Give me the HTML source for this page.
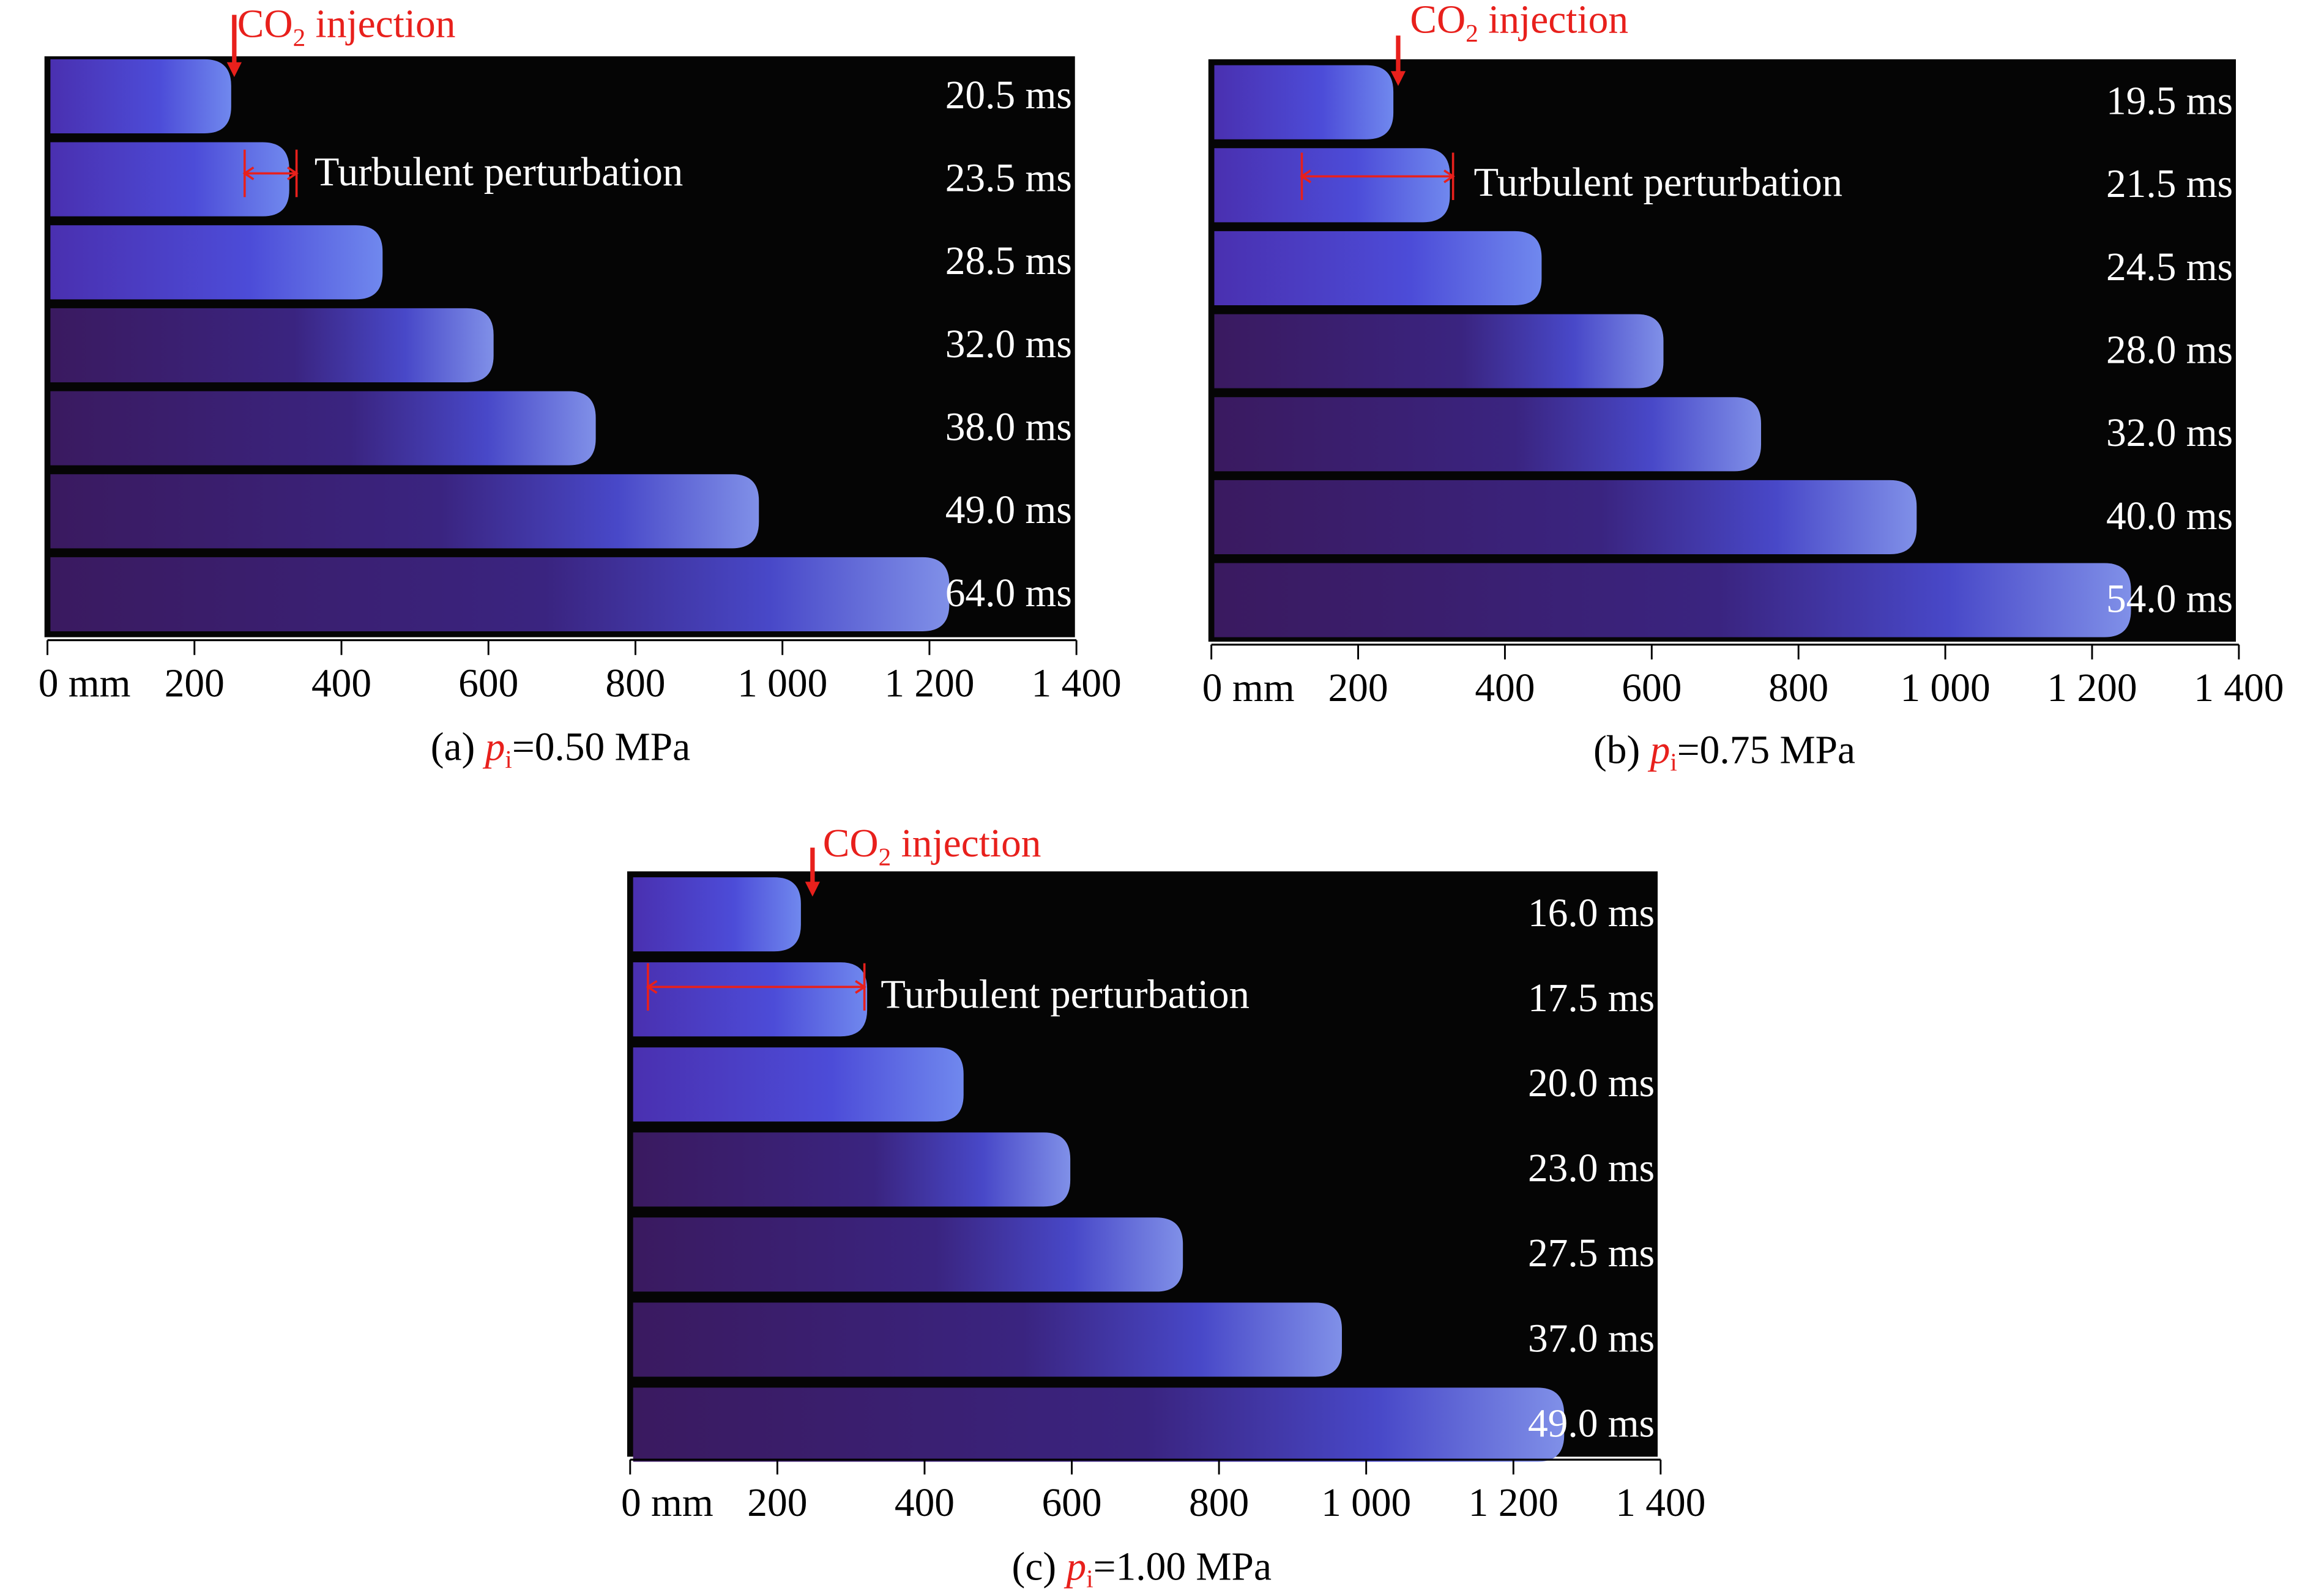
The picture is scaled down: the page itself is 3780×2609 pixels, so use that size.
<!DOCTYPE html>
<html><head><meta charset="utf-8">
<style>
html,body{margin:0;padding:0;background:#fff;}
svg{display:block;}
text{font-family:"Liberation Serif",serif;}
</style></head>
<body>
<svg id="fig" width="3780" height="2609" viewBox="0 0 1560 1077" preserveAspectRatio="none" xmlns="http://www.w3.org/2000/svg">
<defs>
<linearGradient id="gEarly" x1="0" x2="1" y1="0" y2="0">
<stop offset="0" stop-color="#4a30b0"/><stop offset="0.6" stop-color="#4c4cd8"/><stop offset="1" stop-color="#7088ee"/>
</linearGradient>
<linearGradient id="gLate" x1="0" x2="1" y1="0" y2="0">
<stop offset="0" stop-color="#3a1a60"/><stop offset="0.55" stop-color="#3a2480"/><stop offset="0.8" stop-color="#4848c8"/><stop offset="1" stop-color="#8090e8"/>
</linearGradient>
</defs>
</svg>
<script>
// Data
const tickLabels = ["0 mm","200","400","600","800","1 000","1 200","1 400"];
const tickValues = [0,200,400,600,800,1000,1200,1400];
const timesA = ["20.5 ms","23.5 ms","28.5 ms","32.0 ms","38.0 ms","49.0 ms","64.0 ms"];
const frontA = [250,329,456,607,746,968,1227];
const timesB = ["19.5 ms","21.5 ms","24.5 ms","28.0 ms","32.0 ms","40.0 ms","54.0 ms"];
const frontB = [248,325,450,616,749,961,1253];
const timesC = ["16.0 ms","17.5 ms","20.0 ms","23.0 ms","27.5 ms","37.0 ms","49.0 ms"];
const frontC = [232,322,453,598,751,967,1269];

const NS="http://www.w3.org/2000/svg";
const svg=document.getElementById('fig');
function mk(tag,attrs,parent){const e=document.createElementNS(NS,tag);for(const k in attrs)e.setAttribute(k,attrs[k]);(parent||svg).appendChild(e);return e;}

const panels=[
 {id:'a',x0:32,x1:726,rx:30,ry:38,rw:695,rh:392,axisY:432,row0:65,rowStep:56,lblY:470,times:timesA,front:frontA,cap:"(a) ",pv:"=0.50 MPa",capX:378,capY:513,
  co2:{x:158,y1:10,y2:52,tx:160,ty:25},turb:{x1:165,x2:200,y:117,tx:212,ty:125}},
 {id:'b',x0:817,x1:1510,rx:815,ry:40,rw:693,rh:393,axisY:435,row0:69,rowStep:56,lblY:473,times:timesB,front:frontB,cap:"(b) ",pv:"=0.75 MPa",capX:1163,capY:515,
  co2:{x:943,y1:24,y2:58,tx:951,ty:22},turb:{x1:878,x2:980,y:119,tx:994,ty:132}},
 {id:'c',x0:425,x1:1120,rx:423,ry:588,rw:695,rh:395,axisY:985,row0:617,rowStep:57.4,lblY:1023,times:timesC,front:frontC,cap:"(c) ",pv:"=1.00 MPa",capX:770,capY:1066,
  co2:{x:548,y1:572,y2:605,tx:555,ty:578},turb:{x1:437,x2:583,y:666,tx:594,ty:680}}
];

panels.forEach(p=>{
 const g=mk('g',{});
 
 
 const xs=v=>p.x0+(v/1400)*(p.x1-p.x0);
 const bg=mk('rect',{x:p.rx,y:p.ry,width:p.rw,height:p.rh,fill:'#050505'},g);
 
 
 p.front.forEach((f,i)=>{
  const cy=p.row0+i*p.rowStep, h=50, xl=p.rx+4, xr=xs(f);
  const r=Math.min(18,(xr-xl)/2);
  const d=`M${xl},${cy-h/2} H${xr-r} Q${xr},${cy-h/2} ${xr},${cy-h/2+r} V${cy+h/2-r} Q${xr},${cy+h/2} ${xr-r},${cy+h/2} H${xl} Z`;
  const s=mk('path',{d:d,fill:i<3?'url(#gEarly)':'url(#gLate)'},g);
  
  
  const t=mk('text',{x:p.rx+p.rw-2,y:cy+8,'text-anchor':'end','font-size':27,fill:'#fff'},g);
  t.textContent=p.times[i];
  
  
 });
 const ax=mk('line',{x1:p.x0,x2:p.x1,y1:p.axisY,y2:p.axisY,stroke:'#000','stroke-width':1.3},g);
 
 
 tickValues.forEach((v,i)=>{
  const tk=mk('line',{x1:xs(v),x2:xs(v),y1:p.axisY,y2:p.axisY+10,stroke:'#000','stroke-width':1.2},g);
  
  
  const lx = i===0 ? xs(v)+25 : xs(v);
  const tl=mk('text',{x:lx,y:p.lblY,'text-anchor':'middle','font-size':27,fill:'#000'},g);
  tl.textContent=tickLabels[i];
  
  
 });
 const c=p.co2;
 const ar=mk('line',{x1:c.x,x2:c.x,y1:c.y1,y2:c.y2-8,stroke:'#e8201c','stroke-width':3},g);
 
 
 const ah=mk('path',{d:`M${c.x-5},${c.y2-10} L${c.x+5},${c.y2-10} L${c.x},${c.y2} Z`,fill:'#e8201c'},g);
 
 
 const ct=mk('text',{x:c.tx,y:c.ty,'font-size':27,fill:'#e8201c'},g);
 ct.innerHTML='CO<tspan font-size="17" dy="6">2</tspan><tspan dy="-6"> injection</tspan>';
 
 
 const tb=p.turb;
 const tg=mk('g',{stroke:'#e8201c','stroke-width':1.5,fill:'none'},g);
 
 
 mk('line',{x1:tb.x1,x2:tb.x1,y1:tb.y-16,y2:tb.y+16},tg);
 mk('line',{x1:tb.x2,x2:tb.x2,y1:tb.y-16,y2:tb.y+16},tg);
 mk('line',{x1:tb.x1,x2:tb.x2,y1:tb.y,y2:tb.y},tg);
 mk('path',{d:`M${tb.x1+6},${tb.y-4} L${tb.x1},${tb.y} L${tb.x1+6},${tb.y+4}`},tg);
 mk('path',{d:`M${tb.x2-6},${tb.y-4} L${tb.x2},${tb.y} L${tb.x2-6},${tb.y+4}`},tg);
 const tt=mk('text',{x:tb.tx,y:tb.ty,'font-size':27.5,fill:'#fff'},g);
 tt.textContent='Turbulent perturbation';
 
 
 const cap=mk('text',{x:p.capX,y:p.capY,'text-anchor':'middle','font-size':27,fill:'#000'},g);
 cap.innerHTML=p.cap+'<tspan fill="#e8201c" font-style="italic">p</tspan><tspan fill="#e8201c" font-size="17" dy="5">i</tspan><tspan dy="-5">'+p.pv+'</tspan>';
 
 
});
</script>
</body></html>
